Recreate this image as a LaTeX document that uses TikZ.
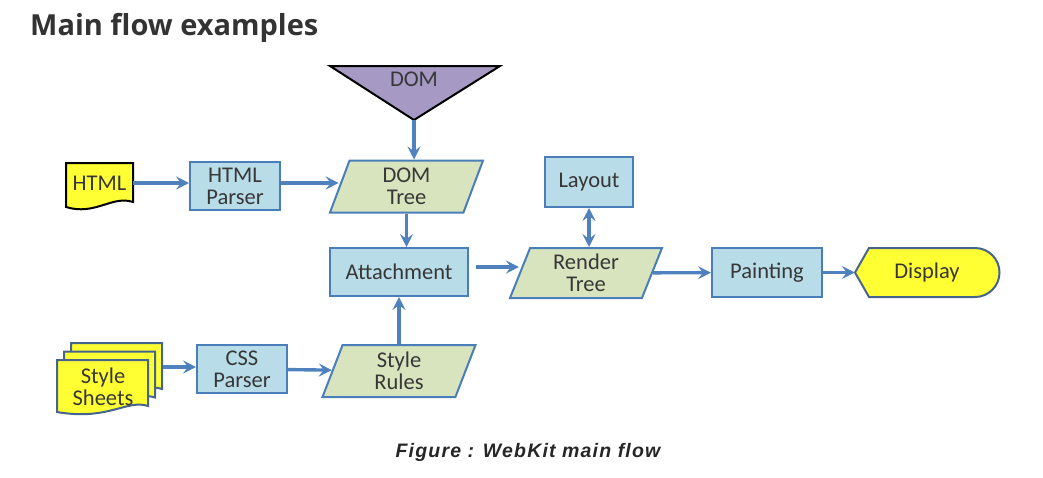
\documentclass[tikz,border=0pt]{standalone}
\usepackage{fontspec}
\setmainfont{Carlito}
\newfontfamily\titlefont{Open Sans}
\newfontfamily\capfont[LetterSpace=6]{Liberation Sans}
\usetikzlibrary{arrows.meta,shapes.geometric}

\definecolor{boxblue}{RGB}{185,221,232}
\definecolor{datagreen}{RGB}{215,228,189}
\definecolor{edgeblue}{RGB}{74,126,187}
\definecolor{flowblue}{RGB}{79,129,189}
\definecolor{domviolet}{RGB}{166,153,196}
\definecolor{docyellow}{RGB}{255,255,51}
\definecolor{dispedge}{RGB}{70,100,140}
\definecolor{textgray}{RGB}{55,55,55}

\newcommand\nodefont{\fontsize{22.5}{22}\selectfont}

\begin{document}
\begin{tikzpicture}[x=1pt,y=-1pt,
	box/.style={draw=edgeblue, fill=boxblue, line width=2pt, minimum height=48pt,
		inner sep=2pt, align=center, text=textgray, font=\nodefont},
	data/.style={trapezium, trapezium left angle=62, trapezium right angle=118,
		trapezium stretches body, draw=edgeblue, fill=datagreen, line width=2pt,
		minimum height=52pt, minimum width=153pt, inner sep=0pt, align=center,
		text=textgray, font=\nodefont},
	doc/.style={inner sep=0pt, align=center, text=textgray, font=\nodefont},
	sheet/.style={fill=docyellow, draw=dispedge, line width=2pt},
	tip/.tip={Stealth[length=13pt,width=13pt,inset=5pt]},
	flow/.style={draw=flowblue, line width=3.4pt, -tip},
	]
	\useasboundingbox (0,0) rectangle (1043,477);
	%\draw[help lines] (0,0) grid[step=50] (1043,477);

	\node[anchor=base west, inner sep=0pt, font=\titlefont\bfseries\fontsize{29}{32}\selectfont, text=black!80] (title) at (30,35) {Main flow examples};

	% DOM
	\filldraw[fill=domviolet, draw=black, line width=2pt] (330,66) -- (500,66) -- (414,120) -- cycle;
	\node[doc] (dom) at (414,79) {DOM};
	\coordinate (domtip) at (414,120);

	% HTML
	\filldraw[fill=docyellow, draw=black, line width=2pt] (66,163) -- (133,163) -- (133,202)
		.. controls (112,195) and (95,216) .. (66,207) -- cycle;
	\node[doc, minimum width=67pt, minimum height=40pt] (html) at (99.5,183) {HTML};
	\node[box, minimum width=90pt] (htmlparser) at (235,186) {HTML\\Parser};
	\node[data] (domtree) at (406.5,186.5) {DOM\\Tree};

	% style sheets
	\foreach \dx/\dy in {14/-17, 7/-8.5, 0/0}
		\filldraw[sheet, shift={(\dx,\dy)}] (57,360) -- (148,360) -- (148,406)
			.. controls (127,399) and (108,421) .. (57,412) -- cycle;
	\node[doc] (sheets) at (103,387) {Style\\Sheets};
	\coordinate (sheetsout) at (163,367);
	\node[box, minimum width=90pt] (cssparser) at (242,369) {CSS\\Parser};
	\node[data] (stylerules) at (399,371) {Style\\Rules};

	% middle row
	\node[box, minimum width=138pt] (attachment) at (399,272) {Attachment};
	\node[data, minimum height=50pt, minimum width=152pt] (rendertree) at (586,273) {Render\\Tree};
	\node[box, minimum width=88pt, minimum height=50pt] (layout) at (589,182) {Layout};
	\node[box, minimum width=110pt, minimum height=49pt] (painting) at (767,272.5) {Painting};

	% display
	\filldraw[fill=docyellow, draw=dispedge, line width=2pt] (855,272.5) -- (869,248) -- (975,248)
		arc[start angle=-90, end angle=90, radius=24.5] -- (869,297) -- cycle;
	\node[doc, minimum width=144pt, minimum height=49pt] (display) at (927,272.5) {Display};

	% arrows
	\draw[flow] (html.east) -- (htmlparser.west |- html.east);
	\draw[flow] ([yshift=3pt]htmlparser.east) -- ([yshift=3pt]htmlparser.east -| domtree.west);
	\draw[flow] (domtip) -- (domtip |- domtree.north);
	\draw[flow] (domtree.south) -- (domtree.south |- attachment.north);
	\draw[flow] (sheetsout) -- (cssparser.west |- sheetsout);
	\draw[flow] (cssparser) -- (stylerules);
	\draw[flow] (stylerules) -- (attachment);
	\draw[flow] ([xshift=7pt,yshift=5pt]attachment.east) -- ([yshift=5pt]attachment.east -| rendertree.west);
	\draw[flow, tip-tip] (layout) -- (layout |- rendertree.north);
	\draw[flow] (rendertree) -- (painting);
	\draw[flow] (painting) -- (display);

	\node[font=\capfont\bfseries\itshape\fontsize{19.5}{22}\selectfont, text=black!85] (caption) at (528,452) {Figure : WebKit main flow};
\end{tikzpicture}
\end{document}
